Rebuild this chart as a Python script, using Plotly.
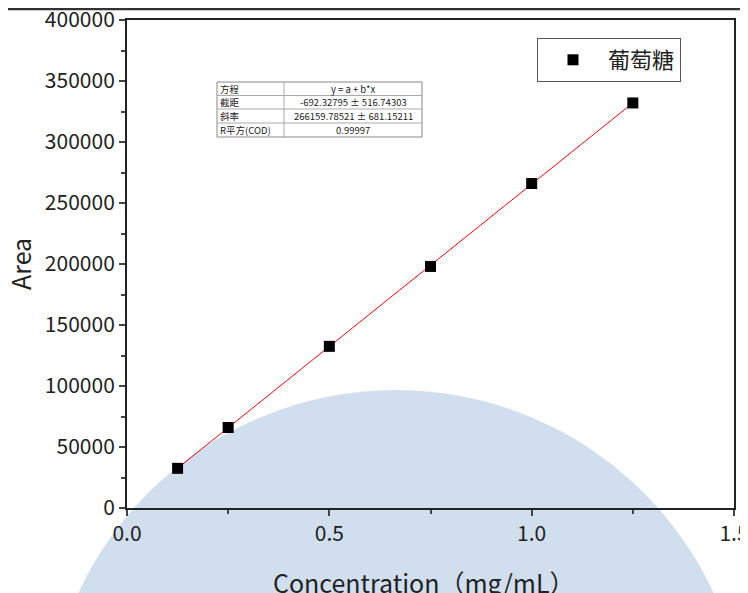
import plotly.graph_objects as go

# standard curve data (glucose)
conc = [0.125, 0.25, 0.5, 0.75, 1.0, 1.25]
area = [32500, 66000, 132500, 198000, 266000, 332000]

# linear fit line end points
fit_x = [0.125, 1.25]
fit_y = [32578, 332008]

# fit report table
tbl_keys = ["方程", "截距", "斜率", "R平方(COD)"]
tbl_vals = ["y = a + b*x", "-692.32795 ± 516.74303",
            "266159.78521 ± 681.15211", "0.99997"]

font = "Noto Sans CJK SC"
OFF = 8  # page body margin
W, H = 748 - OFF, 593 - OFF
L, R, T, B = 127 - OFF, 14, 20 - OFF, 85
pw, ph = W - L - R, H - T - B


# page pixel -> paper coords
def px(x):
    return (x - OFF - L) / pw


def py(y):
    return (H - B - (y - OFF)) / ph


fig = go.Figure()

fig.add_trace(go.Scatter(x=fit_x, y=fit_y, mode="lines",
                         line=dict(color="red", width=1), showlegend=False))
fig.add_trace(go.Scatter(x=conc, y=area, mode="markers", name="葡萄糖",
                         marker=dict(symbol="square", size=11, color="black")))

fig.update_xaxes(range=[0, 1.5], tickvals=[0, 0.5, 1.0, 1.5],
                 ticktext=["0.0", "0.5", "1.0", "1.5"],
                 ticks="outside", ticklen=6, tickwidth=1.5,
                 minor=dict(tickvals=[0.25, 0.75, 1.25], ticks="outside",
                            ticklen=4, tickwidth=1.5),
                 showline=True, linewidth=2, linecolor="#222", mirror=True,
                 showgrid=False, zeroline=False, automargin=False,
                 ticklabeloverflow="allow",
                 tickfont=dict(size=21, color="#222"))
fig.update_yaxes(range=[0, 400000], dtick=50000, tickformat="d",
                 ticks="outside", ticklen=6, tickwidth=1.5,
                 minor=dict(dtick=25000, ticks="outside", ticklen=4, tickwidth=1.5),
                 showline=True, linewidth=2, linecolor="#222", mirror=True,
                 showgrid=False, zeroline=False, automargin=False,
                 ticklabeloverflow="allow",
                 tickfont=dict(size=21, color="#222"))

# axis titles
fig.add_annotation(x=px(424), y=py(582), xref="paper", yref="paper",
                   text="Concentration（mg/mL）", showarrow=False,
                   xanchor="center", yanchor="middle",
                   font=dict(size=25, color="#222"))
fig.add_annotation(x=px(20), y=py(264), xref="paper", yref="paper",
                   text="Area", showarrow=False, textangle=-90,
                   xanchor="center", yanchor="middle",
                   font=dict(size=25, color="#222"))

# background circle and top rule
fig.add_shape(type="circle", xref="paper", yref="paper",
              x0=px(46), x1=px(746), y0=py(1090), y1=py(390),
              fillcolor="#d0deee", line_width=0, layer="below")
fig.add_shape(type="line", xref="paper", yref="paper",
              x0=px(0), x1=px(760), y0=py(9), y1=py(9),
              line=dict(color="#333", width=2.5))

# fit report table drawn with shapes and annotations
tx0, tx1, tmid = 217, 422, 284
rows = [82, 95.5, 109, 123, 137]
fig.add_shape(type="rect", xref="paper", yref="paper",
              x0=px(tx0), x1=px(tx1), y0=py(rows[-1]), y1=py(rows[0]),
              fillcolor="white", line=dict(color="#888", width=1))
fig.add_shape(type="line", xref="paper", yref="paper",
              x0=px(tmid), x1=px(tmid), y0=py(rows[-1]), y1=py(rows[0]),
              line=dict(color="#aaa", width=1))
for yl in rows[1:-1]:
    fig.add_shape(type="line", xref="paper", yref="paper",
                  x0=px(tx0), x1=px(tx1), y0=py(yl), y1=py(yl),
                  line=dict(color="#aaa", width=1))
for i, (k, v) in enumerate(zip(tbl_keys, tbl_vals)):
    yc = py((rows[i] + rows[i + 1]) / 2)
    fig.add_annotation(x=px(tx0 + 2), y=yc, xref="paper", yref="paper",
                       text=k, showarrow=False, xanchor="left", yanchor="middle",
                       font=dict(size=9.5, color="#222"), borderpad=0)
    fig.add_annotation(x=px((tmid + tx1) / 2), y=yc, xref="paper", yref="paper",
                       text=v, showarrow=False, xanchor="center", yanchor="middle",
                       font=dict(size=9.5, color="#222"), borderpad=0)

fig.update_layout(
    width=W, height=H,
    margin=dict(l=L, r=R, t=T, b=B),
    paper_bgcolor="white", plot_bgcolor="rgba(0,0,0,0)",
    font=dict(family=font, color="#222"),
    legend=dict(x=px(537), y=py(38), xanchor="left", yanchor="top",
                bordercolor="#555", borderwidth=1, bgcolor="white",
                itemwidth=60, font=dict(size=22), tracegroupgap=0,
                valign="middle"),
)

fig.write_html("out.html")
